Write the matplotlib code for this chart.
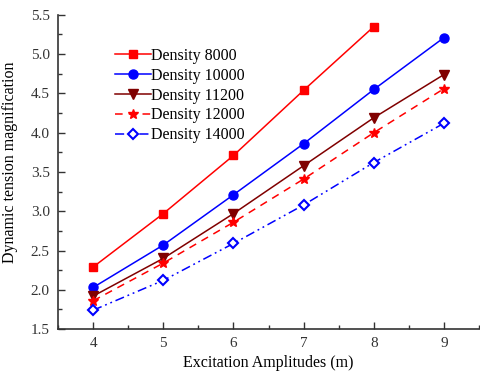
import numpy as np
import matplotlib
matplotlib.use("Agg")
import matplotlib.pyplot as plt
from matplotlib.ticker import MultipleLocator

amplitudes = [4, 5, 6, 7, 8, 9]

density_8000 = [2.29, 2.97, 3.71, 4.54, 5.35]
density_10000 = [2.03, 2.57, 3.21, 3.86, 4.55, 5.21]
density_11200 = [1.92, 2.40, 2.97, 3.58, 4.19, 4.74]
density_12000 = [1.86, 2.34, 2.86, 3.41, 4.00, 4.56]
density_14000 = [1.74, 2.12, 2.59, 3.08, 3.62, 4.12]

plt.rcParams["font.family"] = ["Liberation Serif", "DejaVu Serif"]

fig = plt.figure(figsize=(4.8, 3.71), dpi=100)
ax = fig.add_axes([0.121, 0.113, 0.877, 0.847])

ax.plot(amplitudes[:len(density_8000)], density_8000, color="#ff0000", lw=1.1,
        marker="s", ms=6, label="Density 8000")
ax.plot(amplitudes, density_10000, color="#0000ff", lw=1.1,
        marker="o", ms=6.5, label="Density 10000")
ax.plot(amplitudes, density_11200, color="#800000", lw=1.1,
        marker="v", ms=7, label="Density 11200")
ax.plot(amplitudes, density_12000, color="#ff0000", lw=1.1, ls=(0, (5, 4)),
        marker="*", ms=7.5, label="Density 12000")
ax.plot(amplitudes, density_14000, color="#0000ff", lw=1.1, ls=(0, (6, 2.5, 1.2, 2.5, 1.2, 2.5)),
        marker="D", ms=5.5, mfc="white", mew=1.5, label="Density 14000")

ax.set_xlim(3.5, 9.5)
ax.set_ylim(1.5, 5.5)
ax.xaxis.set_major_locator(MultipleLocator(1))
ax.xaxis.set_minor_locator(MultipleLocator(0.5))
ax.yaxis.set_major_locator(MultipleLocator(0.5))
ax.yaxis.set_minor_locator(MultipleLocator(0.25))
ax.yaxis.set_major_formatter(plt.FormatStrFormatter("%.1f"))

for side in ("top", "right"):
    ax.spines[side].set_visible(False)
for side in ("left", "bottom"):
    ax.spines[side].set_linewidth(1.2)
    ax.spines[side].set_color("#333333")

ax.tick_params(which="both", direction="in", labelsize=11, colors="#333333")
ax.tick_params(which="major", length=5, width=1)
ax.tick_params(which="minor", length=3, width=1)
ax.tick_params(axis="x", pad=6)
ax.tick_params(axis="y", pad=6)

ax.set_xlabel("Excitation Amplitudes (m)", fontsize=11.5, labelpad=3)
ax.set_ylabel("Dynamic tension magnification", fontsize=11.5)
ax.yaxis.set_label_coords(-0.095, 0.53)

ax.legend(loc="upper left", bbox_to_anchor=(0.12, 0.915), frameon=False, fontsize=11.5,
          handlelength=2.25, handletextpad=0.0, labelspacing=0.24, borderaxespad=0)

fig.savefig("out.png", dpi=100)
